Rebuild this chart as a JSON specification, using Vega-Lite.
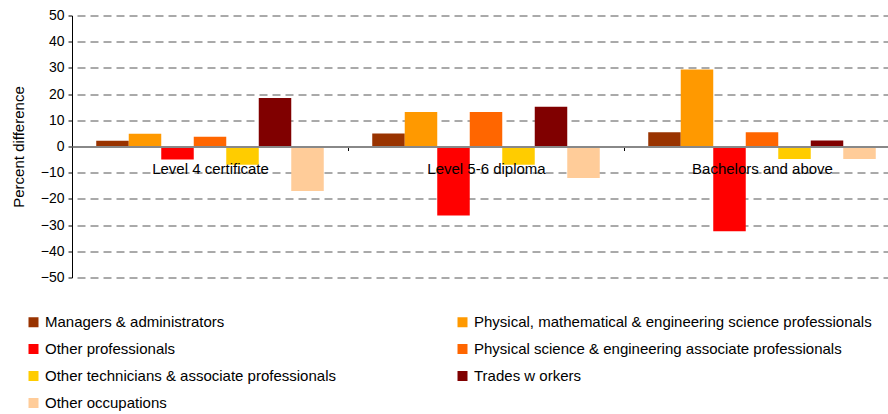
{
  "$schema": "https://vega.github.io/schema/vega-lite/v6.json",
  "width": 828,
  "height": 262,
  "autosize": {"type": "none"},
  "padding": {"left": 72, "top": 15.5, "right": 0, "bottom": 136.5},
  "background": "white",
  "config": {
    "font": "Liberation Sans",
    "view": {"stroke": null}
  },
  "data": {
    "values": [
      {"level": "Level 4 certificate", "occ": "Managers & administrators", "value": 2.2},
      {"level": "Level 4 certificate", "occ": "Physical, mathematical & engineering science professionals", "value": 4.9},
      {"level": "Level 4 certificate", "occ": "Other professionals", "value": -5},
      {"level": "Level 4 certificate", "occ": "Physical science & engineering associate professionals", "value": 3.7},
      {"level": "Level 4 certificate", "occ": "Other technicians & associate professionals", "value": -7},
      {"level": "Level 4 certificate", "occ": "Trades w orkers", "value": 18.5},
      {"level": "Level 4 certificate", "occ": "Other occupations", "value": -17},
      {"level": "Level 5-6 diploma", "occ": "Managers & administrators", "value": 5},
      {"level": "Level 5-6 diploma", "occ": "Physical, mathematical & engineering science professionals", "value": 13.2},
      {"level": "Level 5-6 diploma", "occ": "Other professionals", "value": -26.3},
      {"level": "Level 5-6 diploma", "occ": "Physical science & engineering associate professionals", "value": 13.2},
      {"level": "Level 5-6 diploma", "occ": "Other technicians & associate professionals", "value": -7},
      {"level": "Level 5-6 diploma", "occ": "Trades w orkers", "value": 15.2},
      {"level": "Level 5-6 diploma", "occ": "Other occupations", "value": -12},
      {"level": "Bachelors and above", "occ": "Managers & administrators", "value": 5.4},
      {"level": "Bachelors and above", "occ": "Physical, mathematical & engineering science professionals", "value": 29.4},
      {"level": "Bachelors and above", "occ": "Other professionals", "value": -32.3},
      {"level": "Bachelors and above", "occ": "Physical science & engineering associate professionals", "value": 5.4},
      {"level": "Bachelors and above", "occ": "Other technicians & associate professionals", "value": -4.8},
      {"level": "Bachelors and above", "occ": "Trades w orkers", "value": 2.3},
      {"level": "Bachelors and above", "occ": "Other occupations", "value": -4.8}
    ]
  },
  "mark": {"type": "bar"},
  "encoding": {
    "x": {
      "field": "level",
      "type": "nominal",
      "sort": ["Level 4 certificate", "Level 5-6 diploma", "Bachelors and above"],
      "scale": {"paddingInner": 0, "paddingOuter": 0},
      "axis": {
        "title": null,
        "orient": "bottom",
        "offset": -131,
        "zindex": 1,
        "labelAngle": 0,
        "labelFontSize": 15,
        "labelColor": "#000000",
        "labelPadding": 11,
        "labelBaseline": "top",
        "domainColor": "#888888",
        "domainWidth": 2,
        "tickBand": "extent",
        "tickColor": "#000000",
        "tickSize": 4,
        "grid": false
      }
    },
    "xOffset": {
      "field": "occ",
      "type": "nominal",
      "sort": [
        "Managers & administrators",
        "Physical, mathematical & engineering science professionals",
        "Other professionals",
        "Physical science & engineering associate professionals",
        "Other technicians & associate professionals",
        "Trades w orkers",
        "Other occupations"
      ],
      "scale": {"paddingInner": 0, "paddingOuter": 0.746}
    },
    "y": {
      "field": "value",
      "type": "quantitative",
      "scale": {"domain": [-50, 50], "nice": false, "zero": false},
      "axis": {
        "title": "Percent difference",
        "titleFontSize": 15,
        "titleFontWeight": "normal",
        "titleColor": "#000000",
        "titlePadding": 14,
        "values": [-50, -40, -30, -20, -10, 0, 10, 20, 30, 40, 50],
        "labelFontSize": 14,
        "labelColor": "#000000",
        "labelPadding": 4,
        "domainColor": "#000000",
        "tickColor": "#000000",
        "tickSize": 4,
        "grid": true,
        "gridColor": "#555555",
        "gridDash": [8, 5],
        "gridDashOffset": 8,
        "gridWidth": 1
      }
    },
    "color": {
      "field": "occ",
      "type": "nominal",
      "sort": [
        "Managers & administrators",
        "Physical, mathematical & engineering science professionals",
        "Other professionals",
        "Physical science & engineering associate professionals",
        "Other technicians & associate professionals",
        "Trades w orkers",
        "Other occupations"
      ],
      "scale": {
        "domain": [
          "Managers & administrators",
          "Physical, mathematical & engineering science professionals",
          "Other professionals",
          "Physical science & engineering associate professionals",
          "Other technicians & associate professionals",
          "Trades w orkers",
          "Other occupations"
        ],
        "range": ["#993300", "#FF9900", "#FF0000", "#FF6600", "#FFCC00", "#800000", "#FFCC99"]
      },
      "legend": {
        "title": null,
        "orient": "none",
        "legendX": -46,
        "legendY": 299,
        "direction": "horizontal",
        "columns": 2,
        "columnPadding": 119,
        "rowPadding": 11,
        "symbolType": "square",
        "symbolSize": 100,
        "symbolStrokeWidth": 0,
        "symbolOpacity": 1,
        "labelFontSize": 15,
        "labelColor": "#000000",
        "labelOffset": 4,
        "labelLimit": 500
      }
    }
  }
}
